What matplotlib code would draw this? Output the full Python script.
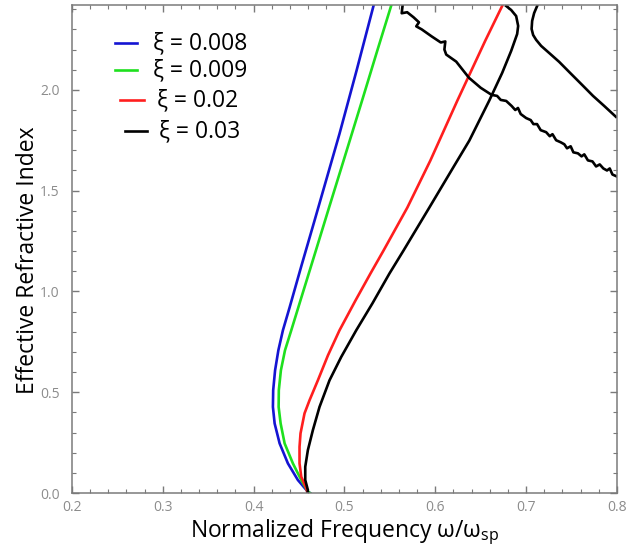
import matplotlib
matplotlib.use('Agg')
import matplotlib.pyplot as plt
from matplotlib.lines import Line2D
from matplotlib.ticker import MultipleLocator

plt.rcParams['font.family'] = ['Open Sans', 'DejaVu Sans']

# effective index curves n(w), read as (w/wsp, n) pairs along each branch
blue_w = [0.4620, 0.4597, 0.4487, 0.4377, 0.4286, 0.4231, 0.4212, 0.4215, 0.4236, 0.4272,
          0.4322, 0.4396, 0.4527, 0.4670, 0.4945, 0.5132, 0.5319]
blue_n = [0.0, 0.0064, 0.0644, 0.147, 0.246, 0.345, 0.427, 0.510, 0.609, 0.708,
          0.807, 0.921, 1.129, 1.351, 1.782, 2.094, 2.416]

green_w = [0.4620, 0.4597, 0.4524, 0.4432, 0.4341, 0.4297, 0.4275, 0.4277, 0.4300, 0.4345,
           0.4414, 0.4515, 0.4685, 0.4830, 0.4990, 0.5193, 0.5360, 0.5513]
green_n = [0.0, 0.0064, 0.0644, 0.147, 0.246, 0.345, 0.427, 0.510, 0.609, 0.708,
           0.807, 0.955, 1.203, 1.416, 1.649, 1.946, 2.193, 2.416]

red_w = [0.4593, 0.4579, 0.4524, 0.4505, 0.4505, 0.4516, 0.4560, 0.4615, 0.4707, 0.4818,
         0.4945, 0.5121, 0.5286, 0.5430, 0.5692, 0.5945, 0.6242, 0.6549, 0.6736]
red_n = [0.0, 0.0233, 0.0807, 0.147, 0.229, 0.296, 0.395, 0.460, 0.559, 0.683,
         0.807, 0.955, 1.089, 1.203, 1.416, 1.649, 1.946, 2.243, 2.416]

black_w = [0.4593, 0.4597, 0.4568, 0.4568, 0.4597, 0.4652, 0.4725, 0.4835, 0.4964, 0.5129,
           0.5308, 0.5495, 0.5650, 0.5934, 0.6209, 0.6374, 0.6593, 0.6736, 0.6835, 0.6901,
           0.6912, 0.6890, 0.6835, 0.6780]
black_n = [0.0, 0.0149, 0.0644, 0.130, 0.213, 0.312, 0.427, 0.559, 0.675, 0.807,
           0.941, 1.089, 1.203, 1.416, 1.624, 1.748, 1.946, 2.084, 2.193, 2.277,
           2.317, 2.366, 2.396, 2.416]

# upper branch for xi = 0.03
black2_w = [0.7121, 0.7088, 0.7066, 0.7060, 0.7077, 0.7110, 0.7165, 0.7253, 0.7363, 0.7484,
            0.7615, 0.7736, 0.7857, 0.7989]
black2_n = [2.416, 2.381, 2.342, 2.302, 2.272, 2.248, 2.218, 2.183, 2.139, 2.084,
            2.025, 1.970, 1.921, 1.866]

# numerically noisy branch for xi = 0.03
noisy_w = [0.564, 0.563, 0.569, 0.576, 0.582, 0.579, 0.585, 0.596, 0.606, 0.611, 0.610,
           0.612, 0.623, 0.637, 0.650, 0.662, 0.668, 0.672, 0.678, 0.684, 0.688, 0.691,
           0.694, 0.700, 0.705, 0.708, 0.712, 0.716, 0.722, 0.726, 0.729, 0.733, 0.738,
           0.742, 0.745, 0.749, 0.752, 0.757, 0.761, 0.764, 0.768, 0.773, 0.777, 0.781,
           0.785, 0.789, 0.792, 0.795, 0.800]
noisy_n = [2.42, 2.38, 2.385, 2.36, 2.335, 2.315, 2.30, 2.265, 2.235, 2.24, 2.20,
           2.175, 2.14, 2.06, 2.01, 1.975, 1.97, 1.95, 1.945, 1.92, 1.90, 1.91,
           1.88, 1.86, 1.85, 1.83, 1.83, 1.80, 1.79, 1.77, 1.78, 1.75, 1.74,
           1.73, 1.71, 1.72, 1.69, 1.685, 1.67, 1.68, 1.65, 1.645, 1.62, 1.63,
           1.61, 1.60, 1.61, 1.58, 1.57]

labels = ['ξ = 0.008', 'ξ = 0.009', 'ξ = 0.02', 'ξ = 0.03']
colors = ['#1414d2', '#1ee01e', '#ff1e1e', '#000000']

fig = plt.figure(figsize=(6.26, 5.5), dpi=100)
ax = fig.add_axes([0.115, 0.1036, 0.8706, 0.887])

lw = 1.9
ax.plot(blue_w, blue_n, color=colors[0], lw=lw)
ax.plot(green_w, green_n, color=colors[1], lw=lw)
ax.plot(red_w, red_n, color=colors[2], lw=lw)
ax.plot(black_w, black_n, color=colors[3], lw=lw)
ax.plot(black2_w, black2_n, color=colors[3], lw=lw)
ax.plot(noisy_w, noisy_n, color=colors[3], lw=lw)

ax.set_xlim(0.2, 0.8)
ax.set_ylim(0.0, 2.42)
ax.xaxis.set_major_locator(MultipleLocator(0.1))
ax.xaxis.set_minor_locator(MultipleLocator(0.02))
ax.yaxis.set_major_locator(MultipleLocator(0.5))
ax.yaxis.set_minor_locator(MultipleLocator(0.1))

grey = '#7a7a7a'
for s in ax.spines.values():
    s.set_color(grey)
    s.set_linewidth(1.1)
ax.tick_params(which='both', direction='in', top=True, right=True, color=grey,
               labelcolor='#8c8c8c', labelsize=10)
ax.tick_params(which='major', length=5, width=1.0)
ax.tick_params(which='minor', length=3, width=0.8)
ax.tick_params(axis='y', pad=9)
ax.tick_params(axis='x', pad=5)

ax.set_xlabel(r'Normalized Frequency ω/ω$_{\mathregular{sp}}$', fontsize=16.5, labelpad=2)
ax.set_ylabel('Effective Refractive Index', fontsize=16.5)
ax.yaxis.set_label_coords(-0.058, 0.477)

# legend entries, handles centred like the original notebook output
entries = [(0.079, 0.119, 0.922, 0.149),
           (0.079, 0.119, 0.867, 0.149),
           (0.088, 0.132, 0.805, 0.156),
           (0.097, 0.138, 0.742, 0.160)]
for (x0, x1, y, tx), lab, c in zip(entries, labels, colors):
    ax.add_line(Line2D([x0, x1], [y, y], color=c, lw=lw, transform=ax.transAxes))
    ax.text(tx, y, lab, transform=ax.transAxes, fontsize=16.5, va='center', ha='left')

fig.savefig('out.png', dpi=100)
